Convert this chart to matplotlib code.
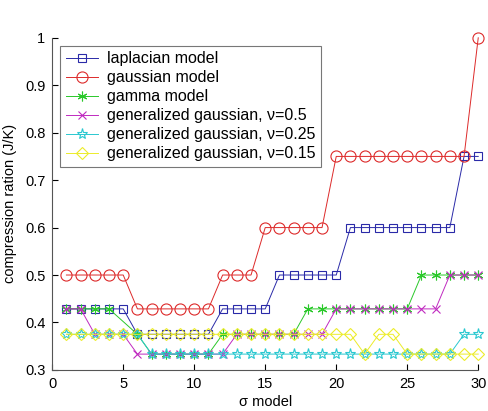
import matplotlib
matplotlib.use("Agg")
import matplotlib.pyplot as plt
import numpy as np

plt.rcParams['font.family'] = ['Liberation Sans', 'DejaVu Sans']

sigma = list(range(1, 31))
sigma_gamma = [s for s in sigma if s != 5]

laplacian = [0.4286] * 5 + [0.375] * 6 + [0.4286] * 4 + [0.5] * 5 + [0.6] * 8 + [0.75] * 2
gaussian = [0.5] * 5 + [0.4286] * 6 + [0.5] * 3 + [0.6] * 5 + [0.75] * 10 + [1.0]
gamma = [0.4286] * 4 + [0.375] + [0.3333] * 5 + [0.375] * 6 + [0.4286] * 8 + [0.5] * 5
gg_05 = [0.4286] * 2 + [0.375] * 3 + [0.3333] * 7 + [0.375] * 7 + [0.4286] * 8 + [0.5] * 3
gg_025 = [0.375] * 6 + [0.3333] * 22 + [0.375] * 2
gg_015 = [0.375] * 21 + [0.3333] + [0.375] * 2 + [0.3333] * 6

# matlab style markers: '*' is an asterisk, 'p' is a pentagram
series = [
    (sigma, laplacian, '#2a2aa8', 's', 5.5, 'laplacian model'),
    (sigma, gaussian, '#dd2a2a', 'o', 8, 'gaussian model'),
    (sigma_gamma, gamma, '#2ac82a', (6, 2, 0), 7, 'gamma model'),
    (sigma, gg_05, '#c02ac0', 'x', 6, 'generalized gaussian, ν=0.5'),
    (sigma, gg_025, '#2ac8d0', '*', 8, 'generalized gaussian, ν=0.25'),
    (sigma, gg_015, '#ecec2a', 'D', 6.5, 'generalized gaussian, ν=0.15'),
]

fig = plt.figure(figsize=(4.88, 4.11), dpi=100)
ax = fig.add_axes([0.107, 0.10, 0.873, 0.808])

for xs, ys, color, marker, ms, label in series:
    ax.plot(xs, ys, color=color, marker=marker, markersize=ms, markerfacecolor='none',
            markeredgecolor=color, linewidth=0.7, markeredgewidth=0.8, label=label,
            clip_on=False)

ax.set_xlim(0, 30)
ax.set_ylim(0.3, 1.0)
ax.set_xticks(np.arange(0, 31, 5))
ax.set_yticks([0.3, 0.4, 0.5, 0.6, 0.7, 0.8, 0.9, 1.0])
ax.set_yticklabels(['0.3', '0.4', '0.5', '0.6', '0.7', '0.8', '0.9', '1'])
ax.tick_params(direction='in', labelsize=10.5, length=4, pad=5)
ax.spines['top'].set_visible(False)
ax.spines['right'].set_visible(False)
for s in ['left', 'bottom']:
    ax.spines[s].set_color('#555555')

ax.set_xlabel('σ model', fontsize=10.5, labelpad=3)
ax.set_ylabel('compression ration (J/K)', fontsize=10.5, labelpad=6)

leg = ax.legend(loc='upper left', bbox_to_anchor=(0.0, 1.0), fontsize=11.5,
                handlelength=2.0, handletextpad=0.6, labelspacing=0.25,
                borderpad=0.35, fancybox=False, framealpha=1)
leg.get_frame().set_edgecolor('#777777')
leg.get_frame().set_linewidth(0.8)

fig.savefig('out.png', dpi=100)
